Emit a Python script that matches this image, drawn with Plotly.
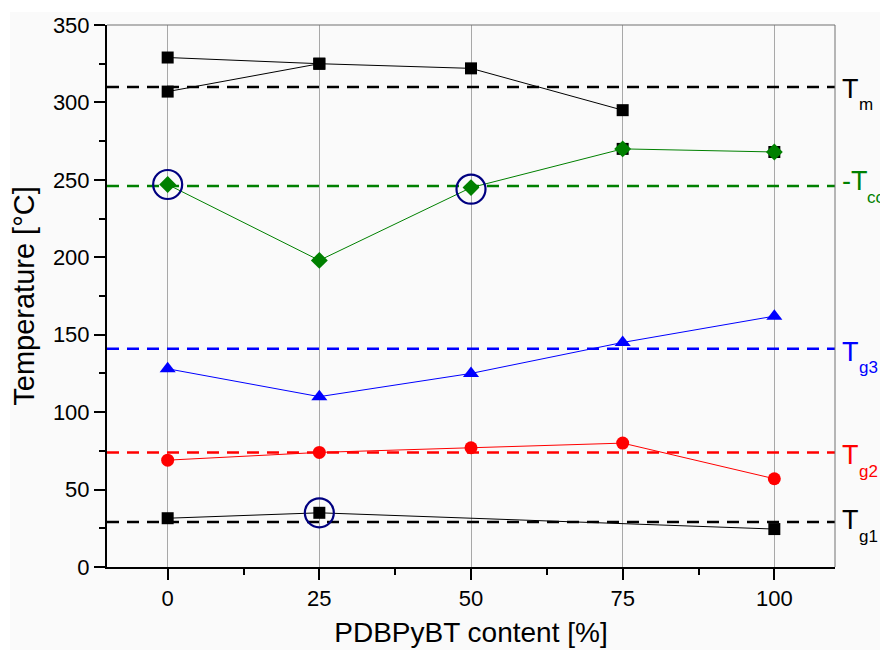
import plotly.graph_objects as go

# PDBPyBT content (%) at each composition
content = [0, 25, 50, 75, 100]

# Melting temperatures (upper branch, and the second peak at 0 %)
tm_main_x = [0, 25, 50, 75]
tm_main_y = [329, 325, 322, 295]
tm_second_x = [0, 25]
tm_second_y = [307, 325]
tm_hidden_x = [75, 100]
tm_hidden_y = [270, 268]

# Cold crystallisation
tcc_y = [247, 198, 245, 270, 268]
# Glass transitions
tg3_y = [128, 110, 125, 145, 162]
tg2_y = [69, 74, 77, 80, 57]
tg1_x = [0, 25, 100]
tg1_y = [31.5, 35, 24.5]

# Highlighted points
ring_x = [0, 50, 25]
ring_y = [247, 244, 35]

# Reference levels and their labels
ref_levels = [310, 246, 141, 74, 29]
ref_main = ["T", "-T", "T", "T", "T"]
ref_subs = ["m", "cc", "g3", "g2", "g1"]
ref_colors = ["black", "#008000", "#0000ff", "#ff0000", "black"]

FONT = "Liberation Sans, Arial, sans-serif"

fig = go.Figure()

# dashed reference levels
for lvl, col in zip(ref_levels, ref_colors):
    fig.add_trace(go.Scatter(x=[-10, 110], y=[lvl, lvl], mode="lines",
                             line=dict(color=col, width=2.5, dash="12px,8px"),
                             hoverinfo="skip", showlegend=False, cliponaxis=False))

fig.add_trace(go.Scatter(x=tm_hidden_x, y=tm_hidden_y, mode="markers",
                         marker=dict(symbol="square", size=12, color="black"),
                         showlegend=False))
fig.add_trace(go.Scatter(x=tm_main_x, y=tm_main_y, mode="lines+markers",
                         line=dict(color="black", width=1),
                         marker=dict(symbol="square", size=12, color="black"),
                         showlegend=False))
fig.add_trace(go.Scatter(x=tm_second_x, y=tm_second_y, mode="lines+markers",
                         line=dict(color="black", width=1),
                         marker=dict(symbol="square", size=12, color="black"),
                         showlegend=False))
fig.add_trace(go.Scatter(x=content, y=tcc_y, mode="lines+markers",
                         line=dict(color="#008000", width=1),
                         marker=dict(symbol="diamond", size=13, color="#008000"),
                         showlegend=False))
fig.add_trace(go.Scatter(x=content, y=tg3_y, mode="lines+markers",
                         line=dict(color="#0000ff", width=1),
                         marker=dict(symbol="triangle-up", size=14, color="#0000ff"),
                         showlegend=False))
fig.add_trace(go.Scatter(x=content, y=tg2_y, mode="lines+markers",
                         line=dict(color="#ff0000", width=1),
                         marker=dict(symbol="circle", size=13, color="#ff0000"),
                         showlegend=False))
fig.add_trace(go.Scatter(x=tg1_x, y=tg1_y, mode="lines+markers",
                         line=dict(color="black", width=1),
                         marker=dict(symbol="square", size=12, color="black"),
                         showlegend=False))
fig.add_trace(go.Scatter(x=ring_x, y=ring_y, mode="markers",
                         marker=dict(symbol="circle-open", size=29, color="#000080",
                                     line=dict(color="#000080", width=2.2)),
                         showlegend=False))

# labels of the reference levels, right of the frame (main letter + subscript)
label_dy = [-2, 5, -3, -3, 2]
for lvl, main, sub, col, dy in zip(ref_levels, ref_main, ref_subs, ref_colors, label_dy):
    fig.add_annotation(x=1, xref="paper", y=lvl, yref="y", text=main,
                       showarrow=False, xanchor="left", yanchor="middle",
                       xshift=6, yshift=dy, borderpad=0,
                       font=dict(family=FONT, size=27, color=col))
    sub_x = 23 if main == "T" else 31
    fig.add_annotation(x=1, xref="paper", y=lvl, yref="y", text=sub,
                       showarrow=False, xanchor="left", yanchor="middle",
                       xshift=sub_x, yshift=dy - 16, borderpad=0,
                       font=dict(family=FONT, size=17, color=col))

# light panel behind the figure, with a white strip on top and left
fig.add_shape(type="rect", xref="paper", yref="paper", x0=-0.2, x1=1.2,
              y0=1.024, y1=1.1, fillcolor="white", line_width=0, layer="below")
fig.add_shape(type="rect", xref="paper", yref="paper", x0=-0.2, x1=-0.1332,
              y0=-0.2, y1=1.1, fillcolor="white", line_width=0, layer="below")
# grey frame on top and right
fig.add_shape(type="line", xref="paper", yref="paper", x0=0, x1=1, y0=1, y1=1,
              line=dict(color="#707070", width=1))
fig.add_shape(type="line", xref="paper", yref="paper", x0=1, x1=1, y0=0, y1=1,
              line=dict(color="#707070", width=1))

fig.update_xaxes(range=[-10, 110], tick0=0, dtick=25, ticks="outside",
                 ticklen=11, tickwidth=2, tickcolor="black",
                 showline=True, linecolor="black", linewidth=2, automargin=False,
                 showgrid=True, gridcolor="#a8a8a8", gridwidth=1, zeroline=False,
                 minor=dict(dtick=12.5, tick0=0, ticks="outside", ticklen=6,
                            tickwidth=2, tickcolor="black", showgrid=False),
                 tickfont=dict(family=FONT, size=22, color="black"),
                 title=dict(text="PDBPyBT content [%]", standoff=12,
                            font=dict(family=FONT, size=28, color="black")))
fig.update_yaxes(range=[0, 350], tick0=0, dtick=50, ticks="outside",
                 ticklen=11, tickwidth=2, tickcolor="black",
                 showline=True, linecolor="black", linewidth=2, automargin=False,
                 showgrid=False, zeroline=False,
                 minor=dict(dtick=25, tick0=0, ticks="outside", ticklen=6,
                            tickwidth=2, tickcolor="black", showgrid=False),
                 tickfont=dict(family=FONT, size=22, color="black"),
                 title=dict(text="Temperature [°C]", standoff=10,
                            font=dict(family=FONT, size=29, color="black")))

fig.update_layout(width=880, height=650,
                  margin=dict(l=107, r=45, t=25, b=83),
                  paper_bgcolor="#fafafa", plot_bgcolor="#fafafa",
                  showlegend=False)

fig.write_html("out.html")
